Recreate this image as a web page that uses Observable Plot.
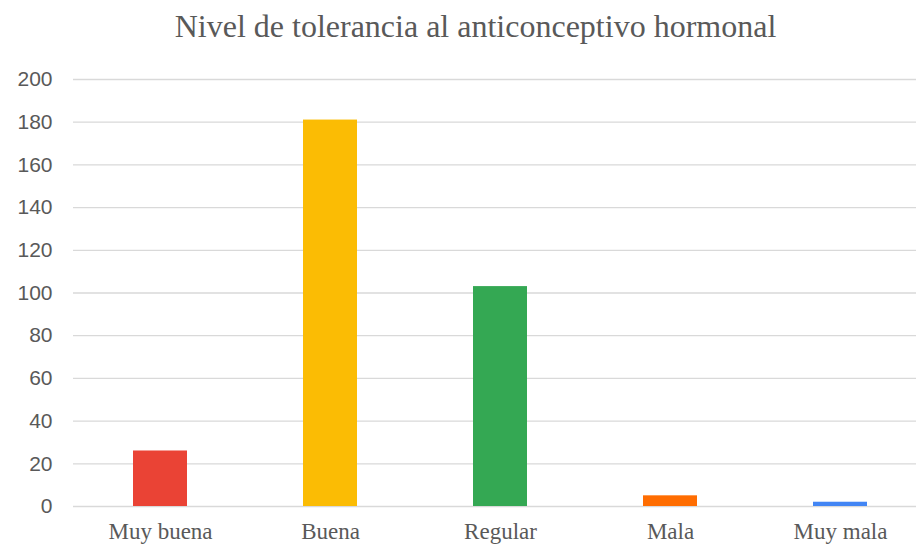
<!DOCTYPE html>
<html>
<head>
<meta charset="utf-8">
<script src="https://cdn.jsdelivr.net/npm/d3@7"></script>
<script src="https://cdn.jsdelivr.net/npm/@observablehq/plot@0.6"></script>
<style>
  html, body { margin: 0; padding: 0; background: #fff; }
  #title {
    box-sizing: border-box;
    width: 916px; height: 55px;
    padding-top: 10px; padding-left: 35px;
    text-align: center;
    font-family: "Liberation Serif", "Times New Roman", serif;
    font-size: 32px; line-height: 32px;
    color: #595959;
  }
  svg { display: block; }
</style>
</head>
<body>
<div id="title">Nivel de tolerancia al anticonceptivo hormonal</div>
<div id="chart"></div>
<script>
const categories = ["Muy buena", "Buena", "Regular", "Mala", "Muy mala"];
const values = [26, 181, 103, 5, 2];
const colors = ["#EA4335", "#FBBC04", "#34A853", "#FF6D01", "#4285F4"];
const yTicks = [0, 20, 40, 60, 80, 100, 120, 140, 160, 180, 200];

const data = categories.map((c, i) => ({category: c, value: values[i], color: colors[i]}));

const chart = Plot.plot({
  width: 916,
  height: 492,
  marginLeft: 73,
  marginRight: 0,
  marginTop: 24,
  marginBottom: 41,
  x: {
    domain: categories,
    range: [73, 926],
    paddingInner: 0.683,
    paddingOuter: 0.3415,
    label: null
  },
  y: {domain: [0, 200], label: null},
  marks: [
    Plot.ruleY(yTicks, {stroke: "#d9d9d9", strokeWidth: 1.3}),
    Plot.barY(data, {x: "category", y: "value", fill: "color"}),
    Plot.axisY({
      ticks: yTicks, tickSize: 0, tickPadding: 21,
      fontSize: 21, fontFamily: "Liberation Sans, Arial, sans-serif",
      fill: "#595959", label: null
    }),
    Plot.axisX({
      tickSize: 0, tickPadding: 16,
      fontSize: 23, fontFamily: "Liberation Serif, Times New Roman, serif",
      fill: "#595959", label: null
    })
  ]
});
document.getElementById("chart").append(chart);
</script>
</body>
</html>
